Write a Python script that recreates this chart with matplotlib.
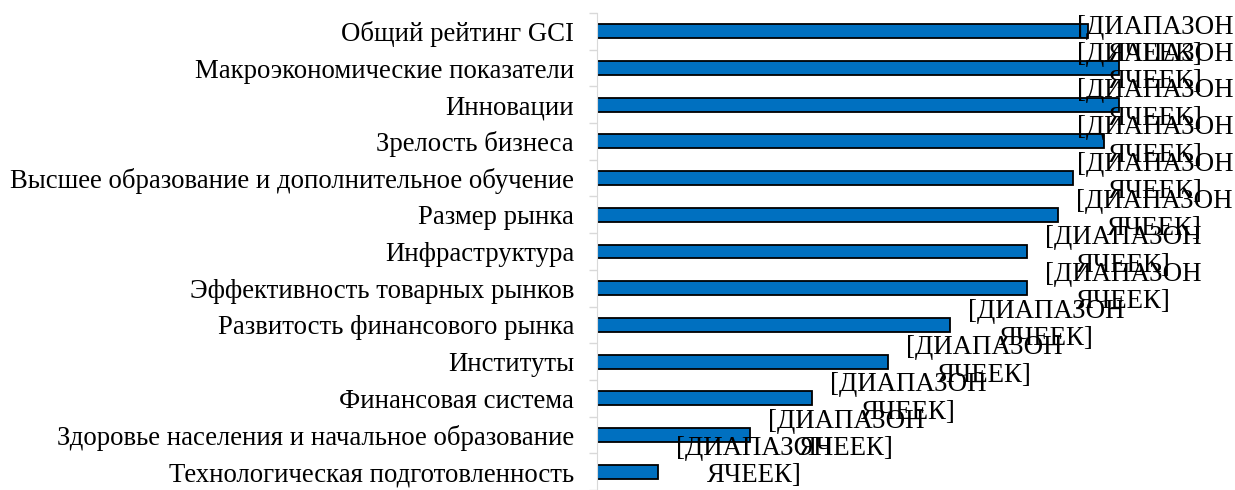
import numpy as np
import matplotlib.pyplot as plt

plt.rcParams['font.family'] = ['Liberation Serif', 'DejaVu Serif']

# categories from top to bottom
categories = [
    'Общий рейтинг GCI',
    'Макроэкономические показатели',
    'Инновации',
    'Зрелость бизнеса',
    'Высшее образование и дополнительное обучение',
    'Размер рынка',
    'Инфраструктура',
    'Эффективность товарных рынков',
    'Развитость финансового рынка',
    'Институты',
    'Финансовая система',
    'Здоровье населения и начальное образование',
    'Технологическая подготовленность',
]
values = [77.2, 82.1, 82.1, 79.7, 74.8, 72.5, 67.6, 67.6, 55.5, 45.8, 33.8, 24.1, 9.6]
label_text = '[ДИАПАЗОН\nЯЧЕЕК]'

fig = plt.figure( figsize = ( 12.35, 4.9 ), dpi = 100 )
ax = fig.add_axes( [ 597 / 1235, 0.0, 636 / 1235, 477 / 490 ] )

n = len( categories )
y = np.arange( n )
ax.barh( y, values, height = 0.38, color = '#0070C0', edgecolor = 'black', linewidth = 1.3 )
ax.set_ylim( n - 0.5, -0.5 )
ax.set_xlim( 0, 100 )

ax.set_yticks( y )
ax.set_yticklabels( categories, fontsize = 19.3 )
ax.tick_params( axis = 'y', which = 'major', length = 0, pad = 16.5 )
ax.set_yticks( np.arange( -0.5, n, 1 ), minor = True )
ax.tick_params( axis = 'y', which = 'minor', length = 5.8, color = '#d9d9d9', width = 1 )
ax.set_xticks( [] )

for side in [ 'top', 'right', 'bottom' ]:
    ax.spines[ side ].set_visible( False )
ax.spines[ 'left' ].set_color( '#d9d9d9' )

# data labels, kept inside the plot area like excel does
offset = 2.8
cap = 75.5
half = 0.76
for yi, v in zip( y, values ):
    yl = min( max( yi, -0.5 + half ), n - 0.5 - half )
    ax.text( min( v + offset, cap ), yl, label_text, ha = 'left', va = 'center',
             multialignment = 'center', fontsize = 19.4, linespacing = 1.13, clip_on = False )

fig.savefig( 'out.png', dpi = 100 )
